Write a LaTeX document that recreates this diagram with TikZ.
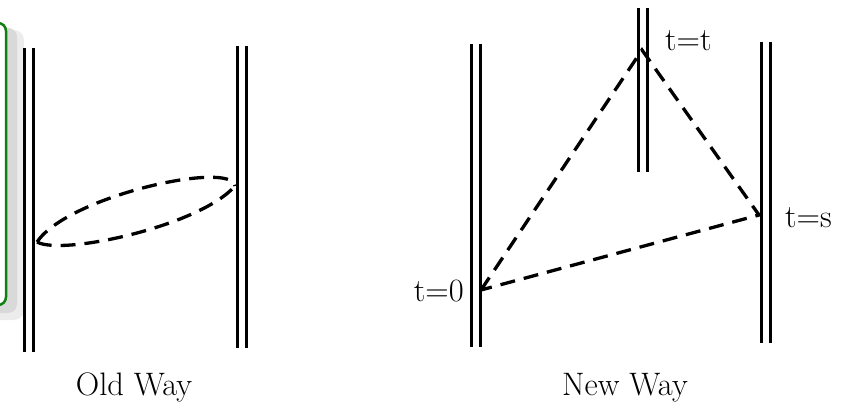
\documentclass[tikz,border=0pt]{standalone}
\usetikzlibrary{calc}
\definecolor{boxgreen}{RGB}{16,128,16}
\begin{document}
\begin{tikzpicture}[x=1pt,y=-1pt,
  rail/.style={draw=black,double=white,line width=3.3pt,double distance=5.2pt},
  path/.style={draw=black,line width=3.3pt,dash pattern=on 15pt off 9pt},
  lbl/.style={font=\fontsize{32.5}{38}\selectfont,inner sep=0pt}]
\useasboundingbox (0,0) rectangle (845,403);
% green framed box (partly outside) with shadow
\fill[gray!15,rounded corners=10pt] (-40,30) rectangle (24,320);
\fill[gray!30,rounded corners=9pt] (-40,28) rectangle (17,313);
\draw[boxgreen,line width=2.5pt,fill=white,rounded corners=8pt] (-40,23) rectangle (6,305);
% Old Way rails
\draw[rail] (29,48) -- (29,352);
\draw[rail] (242,46) -- (242,348);
\coordinate (oa) at (37,242);
\coordinate (ob) at (235,186);
\draw[path] (oa) .. controls (68,196) and (232,160) .. (ob);
\draw[path] (oa) .. controls (62,256) and (200,226) .. (ob);
% New Way rails
\draw[rail] (476,44) -- (476,347);
\draw[rail] (643,8) -- (643,172);
\draw[rail] (766,42) -- (766,343);
\coordinate (p0) at (481,290);
\coordinate (pt) at (642,50);
\coordinate (ps) at (759,215);
\draw[path] (p0) -- (pt) -- (ps) -- (p0);
% labels
\node[lbl,anchor=east] (l0) at (464,291) {t=0};
\node[lbl,anchor=west] (lt) at (665,41) {t=t};
\node[lbl,anchor=west] (ls) at (785,218) {t=s};
\node[lbl,anchor=base] (old) at (134,395) {Old Way};
\node[lbl,anchor=base] (new) at (625,395) {New Way};
\end{tikzpicture}
\end{document}
